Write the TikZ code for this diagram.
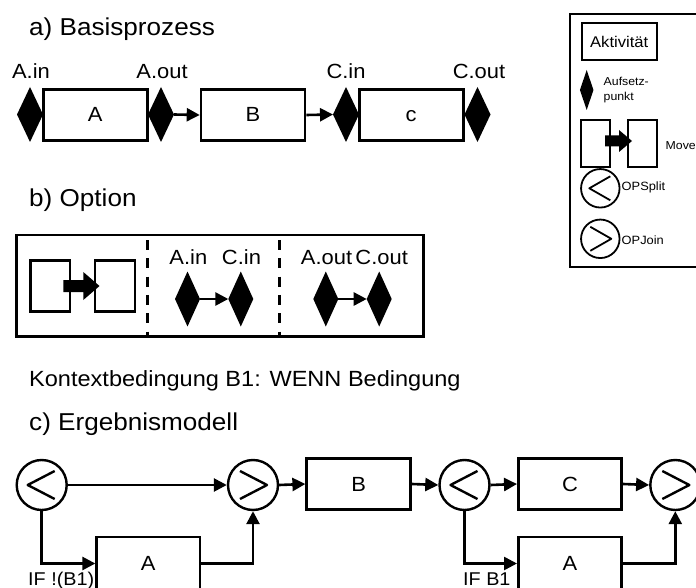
\documentclass[tikz,border=0pt]{standalone}
\usepackage{fontspec}
\setmainfont[FakeStretch=1.07]{Liberation Sans}
\usetikzlibrary{arrows.meta,shapes.geometric}
\newcommand{\fatarr}[6]{\fill (#1,#4-#5) -- (#2,#4-#5) -- (#2,#4-#6) -- (#3,#4) -- (#2,#4+#6) -- (#2,#4+#5) -- (#1,#4+#5) -- cycle;}
\tikzset{
  actbox/.style={draw, line width=2.6pt, minimum width=104pt, minimum height=51pt, inner sep=0pt,
    text height=14pt, text depth=0pt, font=\fontsize{20.5}{22}\selectfont},
  dia/.style={diamond, fill=black, draw=none, inner sep=0pt, outer sep=0pt,
    minimum width=26pt, minimum height=55pt},
  arr/.style={line width=2.6pt, -{Triangle[length=13pt,width=13pt]}},
  conn/.style={line width=2.6pt},
  opnode/.style={circle, draw, line width=2.4pt, minimum size=50pt, inner sep=0pt},
  opsign/.style={line width=2.4pt, line join=round},
  lbl/.style={anchor=base, inner sep=0pt, font=\fontsize{20.5}{24}\selectfont},
  headtxt/.style={anchor=base west, inner sep=0pt, font=\fontsize{24.4}{29}\selectfont},
  smalltxt/.style={anchor=west, inner sep=0pt, align=left},
  ifl/.style={anchor=base west, inner sep=0pt, font=\fontsize{18.5}{20}\selectfont},
}
\begin{document}
\begin{tikzpicture}[x=1pt,y=-1pt]
\useasboundingbox (0,0) rectangle (696,588);

% ---------- a) Basisprozess ----------
\node[headtxt] (ha) at (29,36) {a) Basisprozess};
\node[dia] (ain) at (30,114.5) {};
\node[actbox] (A) at (95.3,115) {A};
\node[dia] (aout) at (161,114.5) {};
\node[actbox] (B) at (253,115) {B};
\node[dia] (cin) at (346,114.5) {};
\node[actbox] (C) at (411.2,115) {c};
\node[dia] (cout) at (477.5,114.5) {};
\node[lbl] (lain) at (31,79) {A.in};
\node[lbl] (laout) at (162,79) {A.out};
\node[lbl] (lcin) at (346,79) {C.in};
\node[lbl] (lcout) at (479,79) {C.out};
\draw[arr] (aout.east) -- (B.west);
\draw[arr] (B.east) -- (cin.west);

% ---------- Legend ----------
\draw[line width=1.8pt] (570,14) rectangle (704,266.7);
\node[draw, line width=1.8pt, minimum width=75pt, minimum height=37pt, inner sep=0pt,
  font=\fontsize{15.5}{17}\selectfont] (lact) at (619.2,41.7) {Aktivität};
\node[dia, minimum width=13.5pt, minimum height=40pt] (ldia) at (586.7,90) {};
\node[smalltxt, font=\fontsize{11.5}{15}\selectfont] (laufs) at (603.5,90.5) {Aufsetz-\\punkt};
\node[draw, line width=1.8pt, minimum width=29.3pt, minimum height=46.7pt, inner sep=0pt] (lm1) at (595.3,143.3) {};
\node[draw, line width=1.8pt, minimum width=29pt, minimum height=46.7pt, inner sep=0pt] (lm2) at (642.8,143.3) {};
\fatarr{605}{619}{632}{141}{5.5}{11}
\node[smalltxt, font=\fontsize{11.5}{13}\selectfont] (lmove) at (665.5,146) {Move};
\node[opnode, line width=1.8pt, minimum size=38.5pt] (lsplit) at (600.3,188.3) {};
\draw[opsign, line width=1.8pt] (lsplit.center) ++(10,-12) -- ++(-21,12) -- ++(21,12);
\node[smalltxt, font=\fontsize{12}{14}\selectfont] (lsplitt) at (621.5,187) {OPSplit};
\node[opnode, line width=1.8pt, minimum size=38.5pt] (ljoin) at (600.3,238.8) {};
\draw[opsign, line width=1.8pt] (ljoin.center) ++(-10,-12) -- ++(21,12) -- ++(-21,12);
\node[smalltxt, font=\fontsize{12}{14}\selectfont] (ljoint) at (621.5,240) {OPJoin};

% ---------- b) Option ----------
\node[headtxt] (hb) at (29,207) {b) Option};
\draw[line width=2.6pt] (16.7,235) rectangle (423.3,336.7);
\draw[line width=2.6pt, dash pattern=on 10pt off 8.3pt] (147.7,240) -- (147.7,336.7);
\draw[line width=2.6pt, dash pattern=on 10pt off 8.3pt] (279.3,240) -- (279.3,336.7);
\node[draw, line width=2.6pt, minimum width=39.3pt, minimum height=51pt, inner sep=0pt] (bm1) at (50.3,286.2) {};
\node[draw, line width=2.6pt, minimum width=40pt, minimum height=51pt, inner sep=0pt] (bm2) at (115,286.2) {};
\fatarr{63.3}{83.3}{99.5}{286}{6}{14}
\node[dia, minimum width=25pt] (bd1) at (187.5,299) {};
\node[dia, minimum width=25pt] (bd2) at (240.8,299) {};
\node[dia, minimum width=25pt] (bd3) at (325.8,299) {};
\node[dia, minimum width=25pt] (bd4) at (379.2,299) {};
\node[lbl] (lb1) at (188.3,264) {A.in};
\node[lbl] (lb2) at (241.5,264) {C.in};
\node[lbl] (lb3) at (326.5,264) {A.out};
\node[lbl] (lb4) at (381.7,264) {C.out};
\draw[arr] (bd1.east) -- (bd2.west);
\draw[arr] (bd3.east) -- (bd4.west);
\node[anchor=base west, inner sep=0pt, font=\fontsize{22}{26}\selectfont] (kontext) at (29,386.7)
  {Kontextbedingung B1: WENN Bedingung};

% ---------- c) Ergebnismodell ----------
\node[headtxt] (hc) at (29,430) {c) Ergebnismodell};
\node[opnode] (s1) at (41.7,485) {};
\draw[opsign] (s1.center) ++(13,-14) -- ++(-27,14) -- ++(27,14);
\node[opnode] (j1) at (253,485) {};
\draw[opsign] (j1.center) ++(-13,-14) -- ++(27,14) -- ++(-27,14);
\node[actbox] (cB) at (358.7,484) {B};
\node[opnode] (s2) at (464.5,485) {};
\draw[opsign] (s2.center) ++(13,-14) -- ++(-27,14) -- ++(27,14);
\node[actbox, minimum width=103.4pt] (cC) at (570,484) {C};
\node[opnode] (j2) at (675.3,485) {};
\draw[opsign] (j2.center) ++(-13,-14) -- ++(27,14) -- ++(-27,14);
\node[actbox, minimum width=103.3pt, minimum height=53pt] (cA1) at (148.3,563.5) {A};
\node[actbox, minimum width=103.4pt, minimum height=53pt] (cA2) at (570,563.5) {A};

\draw[arr] (s1.east) -- (j1.west);
\draw[arr] (j1.east) -- (cB.west);
\draw[arr] (cB.east) -- (s2.west);
\draw[arr] (s2.east) -- (cC.west);
\draw[arr] (cC.east) -- (j2.west);
\draw[arr] (s1.south) |- (cA1.west);
\draw[arr] (cA1.east) -| (j1.south);
\draw[arr] (s2.south) |- (cA2.west);
\draw[arr] (cA2.east) -| (j2.south);
\node[ifl] (if1) at (28,585) {IF !(B1)};
\node[ifl] (if2) at (463,585) {IF B1};
\end{tikzpicture}
\end{document}
